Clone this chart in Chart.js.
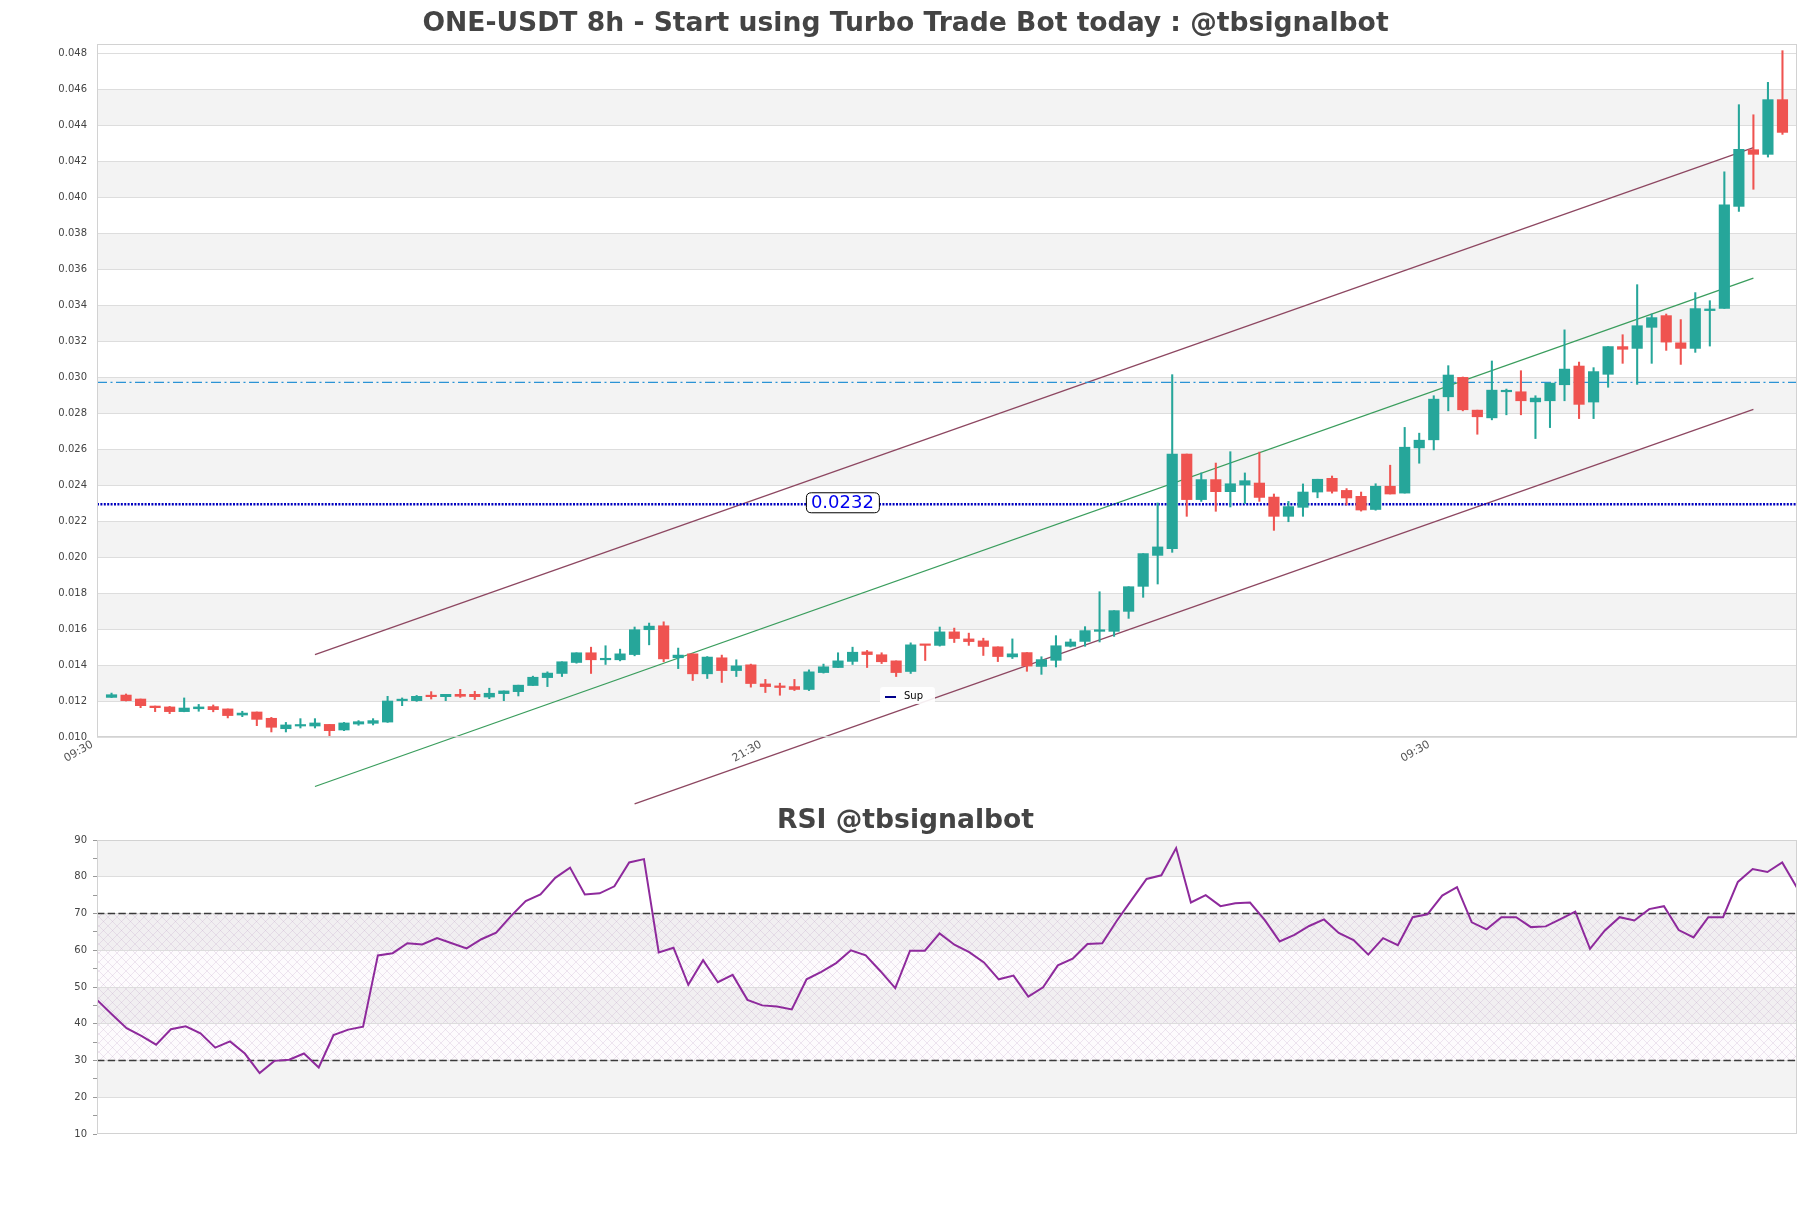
<!DOCTYPE html>
<html><head><meta charset="utf-8">
<script src="https://cdn.jsdelivr.net/npm/chart.js@4.4.1/dist/chart.umd.min.js"></script>
<style>
html,body{margin:0;padding:0;background:#fff;}
#wrap{position:relative;width:1811px;height:1208px;background:#fff;}
#c1{position:absolute;left:0;top:0;z-index:2;}
#c2{position:absolute;left:0;top:800px;z-index:1;}
</style></head>
<body><div id="wrap"><canvas id="c1" width="1811" height="812" style="width:1811px;height:812px"></canvas><canvas id="c2" width="1811" height="408" style="width:1811px;height:408px"></canvas></div>
<script>
// ---------------- DATA ----------------
const mainTitle = 'ONE-USDT 8h - Start using Turbo Trade Bot today : @tbsignalbot';
const rsiTitle = 'RSI @tbsignalbot';
const opens  = [0.01220,0.01233,0.01211,0.01172,0.01167,0.01141,0.01157,0.01169,0.01156,0.01122,0.01139,0.01104,0.01046,0.01061,0.01061,0.01070,0.01039,0.01072,0.01076,0.01083,0.01202,0.01202,0.01230,0.01224,0.01237,0.01237,0.01222,0.01241,0.01252,0.01286,0.01330,0.01353,0.01414,0.01468,0.01429,0.01429,0.01458,0.01596,0.01618,0.01440,0.01462,0.01351,0.01440,0.01369,0.01401,0.01295,0.01284,0.01280,0.01264,0.01358,0.01386,0.01420,0.01473,0.01457,0.01423,0.01364,0.01514,0.01509,0.01584,0.01545,0.01534,0.01501,0.01445,0.01469,0.01392,0.01426,0.01504,0.01531,0.01587,0.01587,0.01698,0.01837,0.02009,0.02046,0.02572,0.02319,0.02430,0.02363,0.02400,0.02411,0.02333,0.02226,0.02276,0.02361,0.02437,0.02370,0.02337,0.02264,0.02393,0.02355,0.02606,0.02651,0.02890,0.02998,0.02816,0.02773,0.02918,0.02918,0.02862,0.02868,0.02957,0.03061,0.02861,0.03015,0.03169,0.03159,0.03276,0.03341,0.03190,0.03159,0.03369,0.03381,0.03948,0.04263,0.04237,0.04541];
const highs  = [0.01244,0.01239,0.01211,0.01172,0.01170,0.01217,0.01181,0.01178,0.01156,0.01143,0.01139,0.01109,0.01081,0.01102,0.01102,0.01070,0.01081,0.01091,0.01102,0.01226,0.01217,0.01231,0.01252,0.01237,0.01265,0.01254,0.01271,0.01256,0.01288,0.01338,0.01362,0.01418,0.01468,0.01499,0.01507,0.01488,0.01611,0.01633,0.01640,0.01494,0.01462,0.01447,0.01455,0.01429,0.01405,0.01320,0.01299,0.01320,0.01373,0.01405,0.01468,0.01499,0.01481,0.01468,0.01423,0.01523,0.01514,0.01611,0.01605,0.01577,0.01549,0.01501,0.01545,0.01469,0.01446,0.01563,0.01544,0.01613,0.01807,0.01702,0.01835,0.02019,0.02300,0.03013,0.02572,0.02467,0.02522,0.02585,0.02467,0.02583,0.02350,0.02309,0.02406,0.02432,0.02450,0.02380,0.02361,0.02407,0.02510,0.02720,0.02688,0.02896,0.03063,0.03000,0.02816,0.03089,0.02933,0.03035,0.02896,0.02966,0.03262,0.03083,0.03052,0.03169,0.03235,0.03513,0.03350,0.03350,0.03319,0.03469,0.03424,0.04140,0.04513,0.04457,0.04637,0.04813];
const lows   = [0.01219,0.01200,0.01163,0.01141,0.01130,0.01140,0.01143,0.01140,0.01106,0.01113,0.01063,0.01028,0.01028,0.01050,0.01050,0.01006,0.01035,0.01065,0.01067,0.01081,0.01174,0.01198,0.01211,0.01202,0.01220,0.01208,0.01213,0.01202,0.01228,0.01286,0.01280,0.01336,0.01410,0.01353,0.01403,0.01423,0.01451,0.01512,0.01418,0.01380,0.01314,0.01325,0.01303,0.01336,0.01277,0.01247,0.01232,0.01258,0.01258,0.01355,0.01386,0.01403,0.01386,0.01408,0.01336,0.01353,0.01425,0.01505,0.01525,0.01509,0.01453,0.01419,0.01436,0.01365,0.01348,0.01389,0.01500,0.01504,0.01528,0.01559,0.01659,0.01776,0.01850,0.02026,0.02226,0.02309,0.02254,0.02278,0.02296,0.02309,0.02148,0.02196,0.02226,0.02329,0.02355,0.02289,0.02255,0.02260,0.02350,0.02355,0.02521,0.02595,0.02812,0.02812,0.02682,0.02762,0.02790,0.02790,0.02658,0.02719,0.02868,0.02769,0.02769,0.02943,0.03076,0.02959,0.03076,0.03148,0.03070,0.03137,0.03172,0.03381,0.03920,0.04043,0.04222,0.04348];
const closes = [0.01235,0.01202,0.01174,0.01163,0.01141,0.01161,0.01167,0.01152,0.01119,0.01133,0.01098,0.01054,0.01067,0.01069,0.01078,0.01035,0.01078,0.01085,0.01091,0.01200,0.01207,0.01226,0.01224,0.01237,0.01226,0.01224,0.01243,0.01256,0.01288,0.01332,0.01355,0.01418,0.01468,0.01429,0.01436,0.01462,0.01596,0.01616,0.01434,0.01455,0.01351,0.01444,0.01369,0.01395,0.01297,0.01280,0.01275,0.01264,0.01362,0.01390,0.01423,0.01471,0.01458,0.01418,0.01358,0.01512,0.01509,0.01584,0.01547,0.01530,0.01503,0.01447,0.01462,0.01394,0.01430,0.01507,0.01528,0.01591,0.01596,0.01702,0.01835,0.02019,0.02056,0.02572,0.02319,0.02430,0.02363,0.02407,0.02424,0.02331,0.02226,0.02280,0.02361,0.02432,0.02365,0.02328,0.02261,0.02393,0.02350,0.02610,0.02649,0.02877,0.03011,0.02818,0.02779,0.02927,0.02924,0.02868,0.02883,0.02966,0.03044,0.02848,0.03030,0.03169,0.03154,0.03285,0.03330,0.03194,0.03159,0.03380,0.03378,0.03957,0.04265,0.04237,0.04541,0.04359];
const rsi = [46.5,42.6,38.8,36.7,34.3,38.5,39.3,37.4,33.5,35.2,31.9,26.6,29.9,30.2,31.9,28.1,36.9,38.4,39.2,58.6,59.2,61.9,61.6,63.3,61.9,60.5,63.0,64.8,69.3,73.4,75.2,79.7,82.5,75.2,75.5,77.4,83.9,84.8,59.4,60.7,50.6,57.3,51.3,53.3,46.5,45.0,44.7,43.9,52.1,54.1,56.5,60.0,58.6,54.3,49.7,59.9,59.9,64.6,61.5,59.5,56.7,52.1,53.1,47.4,49.9,55.9,57.7,61.7,61.9,68.1,73.8,79.4,80.4,87.8,73.0,75.0,72.0,72.8,73.0,68.2,62.4,64.2,66.6,68.4,64.7,62.8,58.8,63.3,61.4,69.0,69.8,74.9,77.2,67.6,65.7,69.0,69.0,66.3,66.5,68.5,70.5,60.4,65.4,69.0,68.1,71.2,72.0,65.5,63.5,69.0,69.0,78.6,82.1,81.3,83.9,77.0];
// channel lines: [x start, x end] and [value start, value end]
const upperX = [14, 113], upperY = [0.01458, 0.04275];
const midX   = [14, 113], midY   = [0.00725, 0.03550];
const lowerX = [36, 113], lowerY = [0.00629, 0.02820];
const supLevel = 0.02293, supLabel = '0.0232', supLegend = 'Sup';
const resLevel = 0.02970;
const rsiLevels = [70, 30];
const yTicks = [0.010,0.012,0.014,0.016,0.018,0.020,0.022,0.024,0.026,0.028,0.030,0.032,0.034,0.036,0.038,0.040,0.042,0.044,0.046,0.048];
const xTickPos = [-1, 45, 91];
const xTickLabels = ['09:30', '21:30', '09:30'];
const rsiTicks = [10,15,20,25,30,35,40,45,50,55,60,65,70,75,80,85,90];

// ---------------- STYLE ----------------
const FONT = 'DejaVu Sans';
Chart.defaults.font.family = FONT;
const UP = '#26a69a', DOWN = '#ef5350';
const candleColors = opens.map((o, i) => closes[i] >= o ? UP : DOWN);

const bordersPlugin = {
  id: 'borders',
  afterDraw(chart) {
    const {ctx, chartArea: ca} = chart;
    ctx.save();
    ctx.strokeStyle = '#d2d2d2'; ctx.lineWidth = 1;
    ctx.strokeRect(Math.round(ca.left) + 0.5, Math.round(ca.top) + 0.5, Math.round(ca.right - ca.left) - 1, Math.round(ca.bottom - ca.top) - 1);
    ctx.restore();
  }
};

const priceBands = {
  id: 'priceBands',
  beforeDraw(chart) {
    const {ctx, chartArea: ca, scales: {y}} = chart;
    ctx.save();
    ctx.fillStyle = '#f3f3f3';
    for (let k = 0; k < yTicks.length - 1; k++) {
      if (k % 2 === 1) {
        const t = y.getPixelForValue(yTicks[k + 1]), b = y.getPixelForValue(yTicks[k]);
        ctx.fillRect(ca.left, t, ca.right - ca.left, b - t);
      }
    }
    ctx.restore();
  }
};

function roundRect(ctx, x, y, w, h, r) {
  ctx.beginPath();
  ctx.moveTo(x + r, y); ctx.lineTo(x + w - r, y); ctx.quadraticCurveTo(x + w, y, x + w, y + r);
  ctx.lineTo(x + w, y + h - r); ctx.quadraticCurveTo(x + w, y + h, x + w - r, y + h);
  ctx.lineTo(x + r, y + h); ctx.quadraticCurveTo(x, y + h, x, y + h - r);
  ctx.lineTo(x, y + r); ctx.quadraticCurveTo(x, y, x + r, y); ctx.closePath();
}

const annotations = {
  id: 'annotations',
  afterDraw(chart) {
    const {ctx, chartArea: ca, scales: {x, y}} = chart;
    ctx.save();
    // support value label
    const cx = x.getPixelForValue(50.3), cy = y.getPixelForValue(supLevel) - 2;
    ctx.font = '18px ' + FONT;
    const tw = ctx.measureText(supLabel).width;
    const bw = tw + 10, bh = 20;
    roundRect(ctx, cx - bw / 2 + 0.5, cy - bh / 2 + 0.5, bw, bh, 5);
    ctx.fillStyle = '#ffffff'; ctx.fill();
    ctx.strokeStyle = '#000000'; ctx.lineWidth = 1; ctx.stroke();
    ctx.fillStyle = '#0000ee'; ctx.textAlign = 'center'; ctx.textBaseline = 'middle';
    ctx.fillText(supLabel, cx, cy + 1);
    // legend
    const lx = ca.left + 783, ly = ca.bottom - 50;
    roundRect(ctx, lx, ly, 55, 17, 3);
    ctx.fillStyle = 'rgba(255,255,255,0.9)'; ctx.fill();
    ctx.strokeStyle = '#00008b'; ctx.lineWidth = 2;
    ctx.beginPath(); ctx.moveTo(lx + 5, ly + 10); ctx.lineTo(lx + 16, ly + 10); ctx.stroke();
    ctx.fillStyle = '#000'; ctx.font = '10px ' + FONT; ctx.textAlign = 'left'; ctx.textBaseline = 'middle';
    ctx.fillText(supLegend, lx + 24, ly + 9);
    ctx.restore();
  }
};

function segment(xs, ys) { return xs.map((v, i) => ({x: v, y: ys[i]})); }

// invisible right-hand spacer axis so that the title is centred on the whole figure
const spacerAxis = {
  type: 'linear', position: 'right', display: true,
  ticks: {display: false}, grid: {display: false, drawTicks: false}, border: {display: false},
  afterFit: s => { s.width = 14; }
};

new Chart(document.getElementById('c1'), {
  type: 'bar',
  data: {
    datasets: [
      {type: 'bar', label: 'body', data: opens.map((o, i) => ({x: i, y: [o, closes[i]]})),
       backgroundColor: candleColors, borderWidth: 0, barThickness: 10.5, minBarLength: 1.5, grouped: false, order: 1},
      {type: 'bar', label: 'wick', data: lows.map((l, i) => ({x: i, y: [l, highs[i]]})),
       backgroundColor: candleColors, borderWidth: 0, barThickness: 1.4, grouped: false, order: 2},
      {type: 'line', label: 'upper', data: segment(upperX, upperY), borderColor: '#8d4761', borderWidth: 1.3, pointRadius: 0, clip: false, order: 10},
      {type: 'line', label: 'mid', data: segment(midX, midY), borderColor: '#3a9d5d', borderWidth: 1.3, pointRadius: 0, clip: false, order: 10},
      {type: 'line', label: 'lower', data: segment(lowerX, lowerY), borderColor: '#8d4761', borderWidth: 1.3, pointRadius: 0, clip: false, order: 10},
      {type: 'line', label: 'res', data: [{x: -1, y: resLevel}, {x: 116, y: resLevel}], borderColor: '#2a93d5', borderWidth: 1.3, borderDash: [10, 3.5, 2, 3.5], pointRadius: 0, order: 9},
      {type: 'line', label: 'sup', data: [{x: -1, y: supLevel}, {x: 116, y: supLevel}], borderColor: '#0000c0', borderWidth: 2.6, borderDash: [2, 1.4], pointRadius: 0, order: 8}
    ]
  },
  options: {
    responsive: false, animation: false,
    layout: {padding: {left: 0, right: 0, top: 0, bottom: 0}},
    plugins: {
      legend: {display: false}, tooltip: {enabled: false},
      title: {display: true, text: mainTitle, color: '#444444', font: {size: 26.6, weight: 'bold', family: FONT, lineHeight: 1.2}, padding: {top: 8.5, bottom: 3.6}}
    },
    scales: {
      x: {
        type: 'linear', min: -1, max: 116, offset: false,
        grid: {display: false}, border: {display: false},
        afterBuildTicks: s => { s.ticks = xTickPos.map(v => ({value: v})); },
        ticks: {autoSkip: false, minRotation: 30, maxRotation: 30, padding: -7, labelOffset: -4.5, color: '#555', font: {size: 11, family: FONT},
          callback: (v, i) => xTickLabels[i]},
        afterFit: s => { s.height = 75; }
      },
      y: {
        type: 'linear', min: 0.010, max: 0.0485,
        afterBuildTicks: s => { s.ticks = yTicks.map(v => ({value: v})); },
        ticks: {padding: 10, color: '#444', font: {size: 10, family: FONT}, callback: v => Number(v).toFixed(3)},
        grid: {color: '#dddddd', drawTicks: false}, border: {display: false},
        afterFit: s => { s.width = 97; }
      },
      yr: spacerAxis
    }
  },
  plugins: [priceBands, bordersPlugin, annotations]
});

// ---------------- RSI ----------------
function makeHatch() {
  const c = document.createElement('canvas'); c.width = 9; c.height = 9;
  const g = c.getContext('2d');
  g.fillStyle = 'rgba(215,190,222,0.06)'; g.fillRect(0, 0, 9, 9);
  g.strokeStyle = 'rgba(175,140,185,0.30)'; g.lineWidth = 0.7;
  g.beginPath(); g.moveTo(0, 0); g.lineTo(9, 9); g.moveTo(9, 0); g.lineTo(0, 9); g.stroke();
  return c;
}
const rsiBands = {
  id: 'rsiBands',
  beforeDraw(chart) {
    const {ctx, chartArea: ca, scales: {y}} = chart;
    ctx.save();
    ctx.fillStyle = '#f3f3f3';
    for (let v = 10; v < 90; v += 10) {
      if (((v - 10) / 10) % 2 === 1) {
        const t = y.getPixelForValue(v + 10), b = y.getPixelForValue(v);
        ctx.fillRect(ca.left, t, ca.right - ca.left, b - t);
      }
    }
    const pat = ctx.createPattern(makeHatch(), 'repeat');
    ctx.fillStyle = pat;
    const t = y.getPixelForValue(rsiLevels[0]), b = y.getPixelForValue(rsiLevels[1]);
    ctx.fillRect(ca.left, t, ca.right - ca.left, b - t);
    ctx.restore();
  }
};

new Chart(document.getElementById('c2'), {
  type: 'line',
  data: {
    datasets: [
      {label: 'RSI', data: rsi.map((v, i) => ({x: i, y: v})), borderColor: '#8e2a9c', borderWidth: 2, pointRadius: 0, tension: 0, order: 1},
      {label: 'ob', data: [{x: 0, y: rsiLevels[0]}, {x: rsi.length - 1, y: rsiLevels[0]}], borderColor: '#3a3a3a', borderWidth: 1.4, borderDash: [7.4, 3.3], pointRadius: 0, order: 2},
      {label: 'os', data: [{x: 0, y: rsiLevels[1]}, {x: rsi.length - 1, y: rsiLevels[1]}], borderColor: '#3a3a3a', borderWidth: 1.4, borderDash: [7.4, 3.3], pointRadius: 0, order: 2}
    ]
  },
  options: {
    responsive: false, animation: false,
    layout: {padding: {left: 0, right: 0, top: 0, bottom: 74}},
    plugins: {
      legend: {display: false}, tooltip: {enabled: false},
      title: {display: true, text: rsiTitle, color: '#444444', font: {size: 26.6, weight: 'bold', family: FONT, lineHeight: 1.2}, padding: {top: 5.6, bottom: 2.5}}
    },
    scales: {
      x: {type: 'linear', min: 0, max: rsi.length - 1, display: false},
      y: {
        type: 'linear', min: 10, max: 90,
        afterBuildTicks: s => { s.ticks = rsiTicks.map(v => ({value: v})); },
        ticks: {padding: 6, color: '#444', font: {size: 10, family: FONT}, callback: v => (v % 10 === 0 ? String(v) : '')},
        grid: {color: c => (c.tick && c.tick.value % 10 === 0 && c.tick.value !== 10 && c.tick.value !== 90) ? '#dddddd' : 'rgba(0,0,0,0)', tickColor: '#999', tickLength: 4, drawTicks: true},
        border: {display: false},
        afterFit: s => { s.width = 97; }
      },
      yr: spacerAxis
    }
  },
  plugins: [rsiBands, bordersPlugin]
});
</script>
</body></html>
